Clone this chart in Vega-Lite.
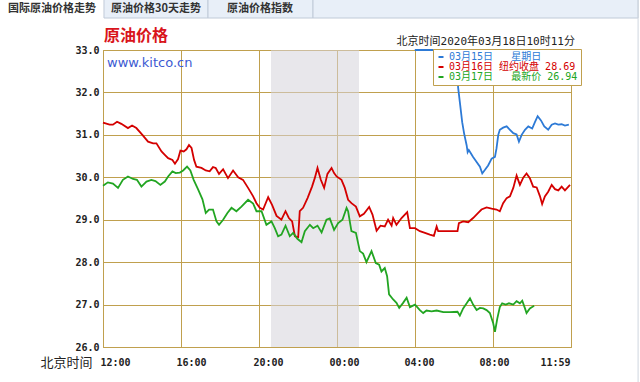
{
  "$schema": "https://vega.github.io/schema/vega-lite/v6.json",
  "width": 468,
  "height": 297,
  "autosize": "none",
  "padding": {"left": 103, "top": 50, "right": 69, "bottom": 35},
  "background": "white",
  "config": {
    "view": {"stroke": "#c0a04e", "strokeWidth": 1},
    "axis": {"grid": true, "domainColor": "#c0a04e", "gridColor": "#c0a04e", "gridOpacity": 1, "gridWidth": 1, "ticks": false, "labelFont": "DejaVu Sans Mono", "labelFontWeight": "bold", "labelFontSize": 10, "labelColor": "#222", "titleFont": "Noto Sans CJK SC", "titleFontWeight": "normal", "titleColor": "#222", "titleFontSize": 13}
  },
  "layer": [
    {"data": {"values": [{}]}, "mark": {"type": "rect", "fill": "#e8eff8", "stroke": "#c0cad8", "strokeWidth": 1},
     "encoding": {"x": {"datum": 0.05, "type": "quantitative"}, "x2": {"datum": 5.385}, "y": {"datum": 33.754, "type": "quantitative"}, "y2": {"datum": 34.3}}},
    {"data": {"values": [{}]}, "mark": {"type": "rect", "fill": "#e8eff8", "stroke": "#c0cad8", "strokeWidth": 1},
     "encoding": {"x": {"datum": 5.385, "type": "quantitative"}, "x2": {"datum": 10.77}, "y": {"datum": 33.754, "type": "quantitative"}, "y2": {"datum": 34.3}}},
    {"data": {"values": [{}]}, "mark": {"type": "rect", "fill": "#e8eff8", "stroke": "#c0cad8", "strokeWidth": 1},
     "encoding": {"x": {"datum": 10.77, "type": "quantitative"}, "x2": {"datum": 27.44}, "y": {"datum": 33.754, "type": "quantitative"}, "y2": {"datum": 34.3}}},
    {"data": {"values": [{}]}, "mark": {"type": "rule", "stroke": "#cfd6df", "strokeWidth": 1},
     "encoding": {"x": {"datum": 27.44, "type": "quantitative"}, "y": {"datum": 25.0, "type": "quantitative"}, "y2": {"datum": 34.3}}},
    {"data": {"values": [{}]}, "mark": {"type": "text", "text": "国际原油价格走势", "font": "Noto Sans CJK SC", "fontSize": 11, "fontWeight": "bold", "color": "#333", "align": "center", "baseline": "middle"},
     "encoding": {"x": {"datum": -2.62, "type": "quantitative"}, "y": {"datum": 33.955, "type": "quantitative"}}},
    {"data": {"values": [{}]}, "mark": {"type": "text", "text": "原油价格30天走势", "font": "Noto Sans CJK SC", "fontSize": 11, "fontWeight": "bold", "color": "#333", "align": "center", "baseline": "middle"},
     "encoding": {"x": {"datum": 2.72, "type": "quantitative"}, "y": {"datum": 33.955, "type": "quantitative"}}},
    {"data": {"values": [{}]}, "mark": {"type": "text", "text": "原油价格指数", "font": "Noto Sans CJK SC", "fontSize": 11, "fontWeight": "bold", "color": "#333", "align": "center", "baseline": "middle"},
     "encoding": {"x": {"datum": 8.05, "type": "quantitative"}, "y": {"datum": 33.955, "type": "quantitative"}}},
    {"data": {"values": [{}]}, "mark": {"type": "text", "text": "原油价格", "font": "Noto Sans CJK SC", "fontSize": 16, "fontWeight": "bold", "color": "#d9141b", "align": "left", "baseline": "middle", "dx": 1, "dy": -14},
     "encoding": {"x": {"datum": 0, "type": "quantitative"}, "y": {"datum": 33, "type": "quantitative"}}},
    {"data": {"values": [{}]}, "mark": {"type": "rect", "fill": "#d6d3da", "opacity": 0.55},
     "encoding": {"x": {"datum": 8.615, "type": "quantitative"}, "x2": {"datum": 13.13}, "y": {"datum": 26, "type": "quantitative"}, "y2": {"datum": 33}}},
    {"data": {"values": [{}]}, "mark": {"type": "text", "text": "www.kitco.cn", "font": "DejaVu Sans", "fontSize": 13, "color": "#3c5ad2", "align": "left", "baseline": "middle", "dx": 4, "dy": 12.5},
     "encoding": {"x": {"datum": 0, "type": "quantitative"}, "y": {"datum": 33, "type": "quantitative"}}},
    {"data": {"values": [{}]}, "mark": {"type": "text", "text": "北京时间2020年03月18日10时11分", "font": "DejaVu Sans Mono, Noto Sans CJK SC", "fontSize": 11, "color": "#222", "align": "right", "baseline": "middle", "dx": 4, "dy": -8},
     "encoding": {"x": {"datum": 24, "type": "quantitative"}, "y": {"datum": 33, "type": "quantitative"}}},
    {
      "data": {"values": [
        {"s":"03月16日","t":0,"v":31.29},{"s":"03月16日","t":0.34,"v":31.24},{"s":"03月16日","t":0.51,"v":31.24},{"s":"03月16日","t":0.72,"v":31.31},{"s":"03月16日","t":0.94,"v":31.26},{"s":"03月16日","t":1.28,"v":31.16},{"s":"03月16日","t":1.49,"v":31.22},{"s":"03月16日","t":1.71,"v":31.16},{"s":"03月16日","t":2.02,"v":31.0},{"s":"03月16日","t":2.31,"v":30.84},{"s":"03月16日","t":2.57,"v":30.8},{"s":"03月16日","t":2.74,"v":30.8},{"s":"03月16日","t":3.0,"v":30.61},{"s":"03月16日","t":3.17,"v":30.53},{"s":"03月16日","t":3.34,"v":30.45},{"s":"03月16日","t":3.56,"v":30.41},{"s":"03月16日","t":3.69,"v":30.32},{"s":"03月16日","t":3.85,"v":30.43},{"s":"03月16日","t":3.97,"v":30.63},{"s":"03月16日","t":4.14,"v":30.61},{"s":"03月16日","t":4.28,"v":30.66},{"s":"03月16日","t":4.41,"v":30.76},{"s":"03月16日","t":4.54,"v":30.69},{"s":"03月16日","t":4.67,"v":30.41},{"s":"03月16日","t":4.79,"v":30.25},{"s":"03月16日","t":5.05,"v":30.22},{"s":"03月16日","t":5.27,"v":30.16},{"s":"03月16日","t":5.47,"v":30.14},{"s":"03月16日","t":5.64,"v":30.24},{"s":"03月16日","t":5.78,"v":30.22},{"s":"03月16日","t":5.95,"v":30.08},{"s":"03月16日","t":6.16,"v":30.19},{"s":"03月16日","t":6.41,"v":29.98},{"s":"03月16日","t":6.67,"v":30.16},{"s":"03月16日","t":6.93,"v":30.0},{"s":"03月16日","t":7.18,"v":29.94},{"s":"03月16日","t":7.44,"v":29.75},{"s":"03月16日","t":7.7,"v":29.55},{"s":"03月16日","t":7.87,"v":29.39},{"s":"03月16日","t":8.04,"v":29.28},{"s":"03月16日","t":8.21,"v":29.24},{"s":"03月16日","t":8.47,"v":29.53},{"s":"03月16日","t":8.67,"v":29.35},{"s":"03月16日","t":8.9,"v":29.09},{"s":"03月16日","t":9.15,"v":29.0},{"s":"03月16日","t":9.36,"v":29.2},{"s":"03月16日","t":9.53,"v":29.04},{"s":"03月16日","t":9.7,"v":28.96},{"s":"03月16日","t":9.84,"v":28.61},{"s":"03月16日","t":10.01,"v":28.59},{"s":"03月16日","t":10.09,"v":29.2},{"s":"03月16日","t":10.26,"v":29.28},{"s":"03月16日","t":10.49,"v":29.51},{"s":"03月16日","t":10.72,"v":29.78},{"s":"03月16日","t":10.86,"v":29.98},{"s":"03月16日","t":11.0,"v":30.22},{"s":"03月16日","t":11.17,"v":29.94},{"s":"03月16日","t":11.34,"v":29.75},{"s":"03月16日","t":11.51,"v":30.08},{"s":"03月16日","t":11.72,"v":30.22},{"s":"03月16日","t":11.85,"v":30.1},{"s":"03月16日","t":11.98,"v":30.02},{"s":"03月16日","t":12.23,"v":29.94},{"s":"03月16日","t":12.4,"v":29.75},{"s":"03月16日","t":12.57,"v":29.47},{"s":"03月16日","t":12.74,"v":29.39},{"s":"03月16日","t":12.97,"v":29.31},{"s":"03月16日","t":13.17,"v":29.08},{"s":"03月16日","t":13.38,"v":29.14},{"s":"03月16日","t":13.65,"v":29.3},{"s":"03月16日","t":13.82,"v":29.12},{"s":"03月16日","t":14.03,"v":28.74},{"s":"03月16日","t":14.23,"v":28.86},{"s":"03月16日","t":14.45,"v":28.84},{"s":"03月16日","t":14.62,"v":29.0},{"s":"03月16日","t":14.8,"v":28.86},{"s":"03月16日","t":14.88,"v":29.04},{"s":"03月16日","t":15.05,"v":28.88},{"s":"03月16日","t":15.31,"v":29.04},{"s":"03月16日","t":15.6,"v":29.18},{"s":"03月16日","t":15.74,"v":28.8},{"s":"03月16日","t":16.0,"v":28.8},{"s":"03月16日","t":16.25,"v":28.73},{"s":"03月16日","t":16.51,"v":28.69},{"s":"03月16日","t":16.76,"v":28.65},{"s":"03月16日","t":16.97,"v":28.62},{"s":"03月16日","t":17.11,"v":28.84},{"s":"03月16日","t":17.19,"v":28.73},{"s":"03月16日","t":17.79,"v":28.73},{"s":"03月16日","t":18.18,"v":28.73},{"s":"03月16日","t":18.25,"v":28.92},{"s":"03月16日","t":18.47,"v":28.96},{"s":"03月16日","t":18.73,"v":28.94},{"s":"03月16日","t":18.98,"v":29.04},{"s":"03月16日","t":19.24,"v":29.16},{"s":"03月16日","t":19.41,"v":29.24},{"s":"03月16日","t":19.67,"v":29.29},{"s":"03月16日","t":19.93,"v":29.26},{"s":"03月16日","t":20.18,"v":29.24},{"s":"03月16日","t":20.35,"v":29.2},{"s":"03月16日","t":20.52,"v":29.39},{"s":"03月16日","t":20.7,"v":29.51},{"s":"03月16日","t":20.87,"v":29.55},{"s":"03月16日","t":21.04,"v":29.75},{"s":"03月16日","t":21.21,"v":30.04},{"s":"03月16日","t":21.38,"v":29.82},{"s":"03月16日","t":21.55,"v":29.99},{"s":"03月16日","t":21.72,"v":30.09},{"s":"03月16日","t":21.89,"v":29.98},{"s":"03月16日","t":22.06,"v":29.78},{"s":"03月16日","t":22.24,"v":29.76},{"s":"03月16日","t":22.41,"v":29.55},{"s":"03月16日","t":22.52,"v":29.37},{"s":"03月16日","t":22.66,"v":29.55},{"s":"03月16日","t":22.83,"v":29.66},{"s":"03月16日","t":23.01,"v":29.82},{"s":"03月16日","t":23.18,"v":29.72},{"s":"03月16日","t":23.35,"v":29.69},{"s":"03月16日","t":23.52,"v":29.78},{"s":"03月16日","t":23.69,"v":29.69},{"s":"03月16日","t":23.95,"v":29.82},
        {"s":"03月17日","t":0,"v":29.8},{"s":"03月17日","t":0.25,"v":29.88},{"s":"03月17日","t":0.51,"v":29.85},{"s":"03月17日","t":0.77,"v":29.75},{"s":"03月17日","t":1.02,"v":29.94},{"s":"03月17日","t":1.28,"v":30.02},{"s":"03月17日","t":1.54,"v":29.96},{"s":"03月17日","t":1.74,"v":29.94},{"s":"03月17日","t":1.97,"v":29.78},{"s":"03月17日","t":2.23,"v":29.9},{"s":"03月17日","t":2.48,"v":29.94},{"s":"03月17日","t":2.69,"v":29.91},{"s":"03月17日","t":2.94,"v":29.82},{"s":"03月17日","t":3.17,"v":29.9},{"s":"03月17日","t":3.34,"v":30.02},{"s":"03月17日","t":3.56,"v":30.14},{"s":"03月17日","t":3.73,"v":30.1},{"s":"03月17日","t":3.94,"v":30.11},{"s":"03月17日","t":4.11,"v":30.16},{"s":"03月17日","t":4.31,"v":30.25},{"s":"03月17日","t":4.48,"v":30.16},{"s":"03月17日","t":4.65,"v":29.94},{"s":"03月17日","t":4.87,"v":29.72},{"s":"03月17日","t":5.1,"v":29.48},{"s":"03月17日","t":5.27,"v":29.16},{"s":"03月17日","t":5.44,"v":29.24},{"s":"03月17日","t":5.64,"v":29.24},{"s":"03月17日","t":5.82,"v":28.96},{"s":"03月17日","t":5.95,"v":28.88},{"s":"03月17日","t":6.16,"v":29.0},{"s":"03月17日","t":6.38,"v":29.16},{"s":"03月17日","t":6.59,"v":29.28},{"s":"03月17日","t":6.84,"v":29.2},{"s":"03月17日","t":7.1,"v":29.31},{"s":"03月17日","t":7.44,"v":29.47},{"s":"03月17日","t":7.7,"v":29.38},{"s":"03月17日","t":7.87,"v":29.2},{"s":"03月17日","t":8.13,"v":29.2},{"s":"03月17日","t":8.38,"v":28.88},{"s":"03月17日","t":8.64,"v":28.96},{"s":"03月17日","t":8.81,"v":28.8},{"s":"03月17日","t":8.98,"v":28.61},{"s":"03月17日","t":9.15,"v":28.65},{"s":"03月17日","t":9.36,"v":28.86},{"s":"03月17日","t":9.58,"v":28.61},{"s":"03月17日","t":9.75,"v":28.69},{"s":"03月17日","t":9.97,"v":28.55},{"s":"03月17日","t":10.18,"v":28.47},{"s":"03月17日","t":10.35,"v":28.73},{"s":"03月17日","t":10.61,"v":28.88},{"s":"03月17日","t":10.78,"v":28.8},{"s":"03月17日","t":11.0,"v":28.86},{"s":"03月17日","t":11.21,"v":28.7},{"s":"03月17日","t":11.46,"v":29.0},{"s":"03月17日","t":11.63,"v":29.03},{"s":"03月17日","t":11.85,"v":28.76},{"s":"03月17日","t":12.06,"v":28.92},{"s":"03月17日","t":12.28,"v":29.0},{"s":"03月17日","t":12.49,"v":29.28},{"s":"03月17日","t":12.57,"v":29.2},{"s":"03月17日","t":12.74,"v":28.73},{"s":"03月17日","t":12.97,"v":28.69},{"s":"03月17日","t":13.17,"v":28.26},{"s":"03月17日","t":13.34,"v":28.2},{"s":"03月17日","t":13.51,"v":28.0},{"s":"03月17日","t":13.77,"v":28.26},{"s":"03月17日","t":13.99,"v":27.98},{"s":"03月17日","t":14.16,"v":27.94},{"s":"03月17日","t":14.28,"v":27.78},{"s":"03月17日","t":14.45,"v":27.86},{"s":"03月17日","t":14.57,"v":27.67},{"s":"03月17日","t":14.67,"v":27.24},{"s":"03月17日","t":14.88,"v":27.12},{"s":"03月17日","t":15.05,"v":27.04},{"s":"03月17日","t":15.19,"v":26.92},{"s":"03月17日","t":15.39,"v":27.04},{"s":"03月17日","t":15.57,"v":27.16},{"s":"03月17日","t":15.74,"v":26.94},{"s":"03月17日","t":16.0,"v":27.0},{"s":"03月17日","t":16.25,"v":26.87},{"s":"03月17日","t":16.42,"v":26.8},{"s":"03月17日","t":16.59,"v":26.86},{"s":"03月17日","t":16.85,"v":26.84},{"s":"03月17日","t":17.11,"v":26.86},{"s":"03月17日","t":17.45,"v":26.82},{"s":"03月17日","t":17.79,"v":26.82},{"s":"03月17日","t":18.18,"v":26.83},{"s":"03月17日","t":18.3,"v":26.74},{"s":"03月17日","t":18.47,"v":26.91},{"s":"03月17日","t":18.65,"v":27.03},{"s":"03月17日","t":18.82,"v":27.15},{"s":"03月17日","t":18.98,"v":27.0},{"s":"03月17日","t":19.16,"v":26.87},{"s":"03月17日","t":19.33,"v":26.92},{"s":"03月17日","t":19.5,"v":26.91},{"s":"03月17日","t":19.67,"v":26.87},{"s":"03月17日","t":19.84,"v":26.8},{"s":"03月17日","t":20.01,"v":26.56},{"s":"03月17日","t":20.1,"v":26.36},{"s":"03月17日","t":20.22,"v":26.67},{"s":"03月17日","t":20.35,"v":26.94},{"s":"03月17日","t":20.47,"v":27.03},{"s":"03月17日","t":20.65,"v":27.0},{"s":"03月17日","t":20.82,"v":27.03},{"s":"03月17日","t":21.04,"v":27.0},{"s":"03月17日","t":21.21,"v":27.08},{"s":"03月17日","t":21.38,"v":27.03},{"s":"03月17日","t":21.5,"v":27.09},{"s":"03月17日","t":21.64,"v":26.91},{"s":"03月17日","t":21.72,"v":26.8},{"s":"03月17日","t":21.89,"v":26.91},{"s":"03月17日","t":22.11,"v":26.97},
        {"s":"03月15日","t":15.99,"v":33.0},{"s":"03月15日","t":18.15,"v":33.0},{"s":"03月15日","t":18.21,"v":32.12},{"s":"03月15日","t":18.3,"v":31.77},{"s":"03月15日","t":18.42,"v":31.3},{"s":"03月15日","t":18.52,"v":31.03},{"s":"03月15日","t":18.65,"v":30.75},{"s":"03月15日","t":18.7,"v":30.59},{"s":"03月15日","t":18.76,"v":30.64},{"s":"03月15日","t":18.87,"v":30.56},{"s":"03月15日","t":18.98,"v":30.48},{"s":"03月15日","t":19.16,"v":30.36},{"s":"03月15日","t":19.33,"v":30.25},{"s":"03月15日","t":19.45,"v":30.09},{"s":"03月15日","t":19.58,"v":30.17},{"s":"03月15日","t":19.75,"v":30.28},{"s":"03月15日","t":19.93,"v":30.44},{"s":"03月15日","t":20.1,"v":30.48},{"s":"03月15日","t":20.18,"v":30.68},{"s":"03月15日","t":20.27,"v":31.0},{"s":"03月15日","t":20.35,"v":31.12},{"s":"03月15日","t":20.52,"v":31.17},{"s":"03月15日","t":20.7,"v":31.2},{"s":"03月15日","t":20.87,"v":31.12},{"s":"03月15日","t":21.04,"v":31.04},{"s":"03月15日","t":21.21,"v":31.01},{"s":"03月15日","t":21.33,"v":30.84},{"s":"03月15日","t":21.47,"v":31.0},{"s":"03月15日","t":21.64,"v":31.12},{"s":"03月15日","t":21.81,"v":31.2},{"s":"03月15日","t":22.01,"v":31.15},{"s":"03月15日","t":22.15,"v":31.3},{"s":"03月15日","t":22.29,"v":31.44},{"s":"03月15日","t":22.46,"v":31.34},{"s":"03月15日","t":22.63,"v":31.2},{"s":"03月15日","t":22.83,"v":31.12},{"s":"03月15日","t":23.01,"v":31.24},{"s":"03月15日","t":23.18,"v":31.27},{"s":"03月15日","t":23.35,"v":31.24},{"s":"03月15日","t":23.52,"v":31.25},{"s":"03月15日","t":23.69,"v":31.22},{"s":"03月15日","t":23.89,"v":31.24}
      ]},
      "mark": {"type": "line", "strokeWidth": 1.8},
      "encoding": {
        "x": {"field": "t", "type": "quantitative", "scale": {"domain": [0, 24], "nice": false, "zero": false},
              "axis": {"grid": true, "values": [0, 2, 4, 6, 8, 10, 12, 14, 16, 18, 20, 22, 24], "labelExpr": "datum.value==0?'12:00':datum.value==4?'16:00':datum.value==8?'20:00':datum.value==12?'00:00':datum.value==16?'04:00':datum.value==20?'08:00':datum.value==24?'11:59':''",
                       "labelOverlap": false, "labelFlush": false, "labelBound": false, "labelBaseline": "middle", "labelPadding": 15,
                       "labelOffset": {"condition": [{"test": "datum.value==0", "value": 12}, {"test": "datum.value==4", "value": 10}, {"test": "datum.value==8", "value": 9}, {"test": "datum.value==12", "value": 7}, {"test": "datum.value==16", "value": 4}, {"test": "datum.value==20", "value": 1}], "value": -16},
                       "title": "北京时间", "titleX": -63, "titleY": 15, "titleAlign": "left", "titleBaseline": "middle", "titleAnchor": "start"}},
        "y": {"field": "v", "type": "quantitative", "scale": {"domain": [26, 33], "nice": false, "zero": false},
              "axis": {"grid": true, "values": [26, 27, 28, 29, 30, 31, 32, 33], "format": ".1f", "labelPadding": 4, "title": null}},
        "color": {"field": "s", "type": "nominal", "scale": {"domain": ["03月15日", "03月16日", "03月17日"], "range": ["#2d7ad6", "#d40000", "#22a522"]},
                  "legend": {"orient": "none", "legendX": 330, "legendY": -1, "title": null, "direction": "vertical", "fillColor": "white", "strokeColor": "#c0a04e", "padding": 3, "rowPadding": 0, "cornerRadius": 0,
                             "symbolType": "stroke", "symbolSize": 25, "symbolStrokeWidth": 2, "labelOffset": 3,
                             "labelFont": "DejaVu Sans Mono, Noto Sans CJK SC", "labelFontSize": 10, "labelLimit": 0,
                             "labelExpr": "datum.label=='03月15日'?'03月15日\u00a0\u00a0\u00a0星期日':datum.label=='03月16日'?'03月16日\u00a0纽约收盘\u00a028.69':'03月17日\u00a0\u00a0\u00a0最新价\u00a026.94'",
                             "encode": {"labels": {"update": {"fill": {"signal": "scale('color', datum.value)"}}}}}}
      }
    }
  ]
}
